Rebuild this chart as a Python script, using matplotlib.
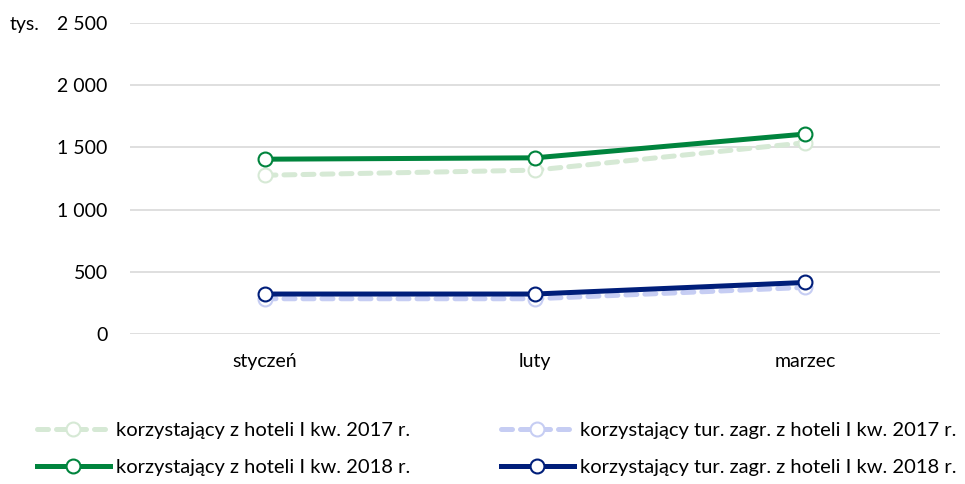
import matplotlib.pyplot as plt
from matplotlib.ticker import FuncFormatter

plt.rcParams['font.family'] = ['Lato', 'DejaVu Sans']

months = ['styczeń', 'luty', 'marzec']
hotel_2017 = [1276, 1317, 1537]
hotel_2018 = [1405, 1416, 1607]
foreign_2017 = [283, 283, 374]
foreign_2018 = [321, 321, 414]

labels = ['korzystający z hoteli I kw. 2017 r.',
          'korzystający tur. zagr. z hoteli I kw. 2017 r.',
          'korzystający z hoteli I kw. 2018 r.',
          'korzystający tur. zagr. z hoteli I kw. 2018 r.']

fig = plt.figure(figsize=(9.65, 4.84), dpi=100)
ax = fig.add_axes([0.1347, 0.31, 0.8393, 0.6425])

x = list(range(len(months)))
l1, = ax.plot(x, hotel_2017, color='#d6e9d5', lw=3.6, ls=(0, (2.2, 1.6)),
              marker='o', ms=10, mfc='white', mec='#d6e9d5', mew=1.5,
              dash_capstyle='round', zorder=2)
l2, = ax.plot(x, foreign_2017, color='#c6cdf3', lw=3.6, ls=(0, (2.2, 1.6)),
              marker='o', ms=10, mfc='white', mec='#c6cdf3', mew=1.5,
              dash_capstyle='round', zorder=2)
l3, = ax.plot(x, hotel_2018, color='#00843d', lw=3.6,
              marker='o', ms=10, mfc='white', mec='#00843d', mew=1.5, zorder=3)
l4, = ax.plot(x, foreign_2018, color='#001e7a', lw=3.6,
              marker='o', ms=10, mfc='white', mec='#001e7a', mew=1.5, zorder=3)

ax.set_xlim(-0.5, 2.5)
ax.set_ylim(0, 2500)
ax.set_yticks(range(0, 2501, 500))
ax.yaxis.set_major_formatter(FuncFormatter(lambda v, p: f'{int(v):,}'.replace(',', ' ')))
ax.set_xticks(x)
ax.set_xticklabels(months)
ax.tick_params(axis='both', length=0, labelsize=14, colors='black')
ax.tick_params(axis='y', pad=16)
ax.tick_params(axis='x', pad=14)
ax.grid(axis='y', color='#d9d9d9', lw=1.2)
ax.set_axisbelow(True)
for s in ax.spines.values():
    s.set_visible(False)

fig.text(10 / 965, 1 - 23 / 484, 'tys.', fontsize=14, va='center_baseline', ha='left')

leg_kw = dict(loc='center left', frameon=False, fontsize=14.5, handlelength=3.6,
              handletextpad=0.3, labelspacing=0.95, borderpad=0, borderaxespad=0)
leg1 = fig.legend([l1, l3], [labels[0], labels[2]],
                  bbox_to_anchor=(37 / 965, 1 - 449 / 484), **leg_kw)
leg2 = fig.legend([l2, l4], [labels[1], labels[3]],
                  bbox_to_anchor=(501 / 965, 1 - 449 / 484), **leg_kw)

fig.savefig('out.png', dpi=100)
